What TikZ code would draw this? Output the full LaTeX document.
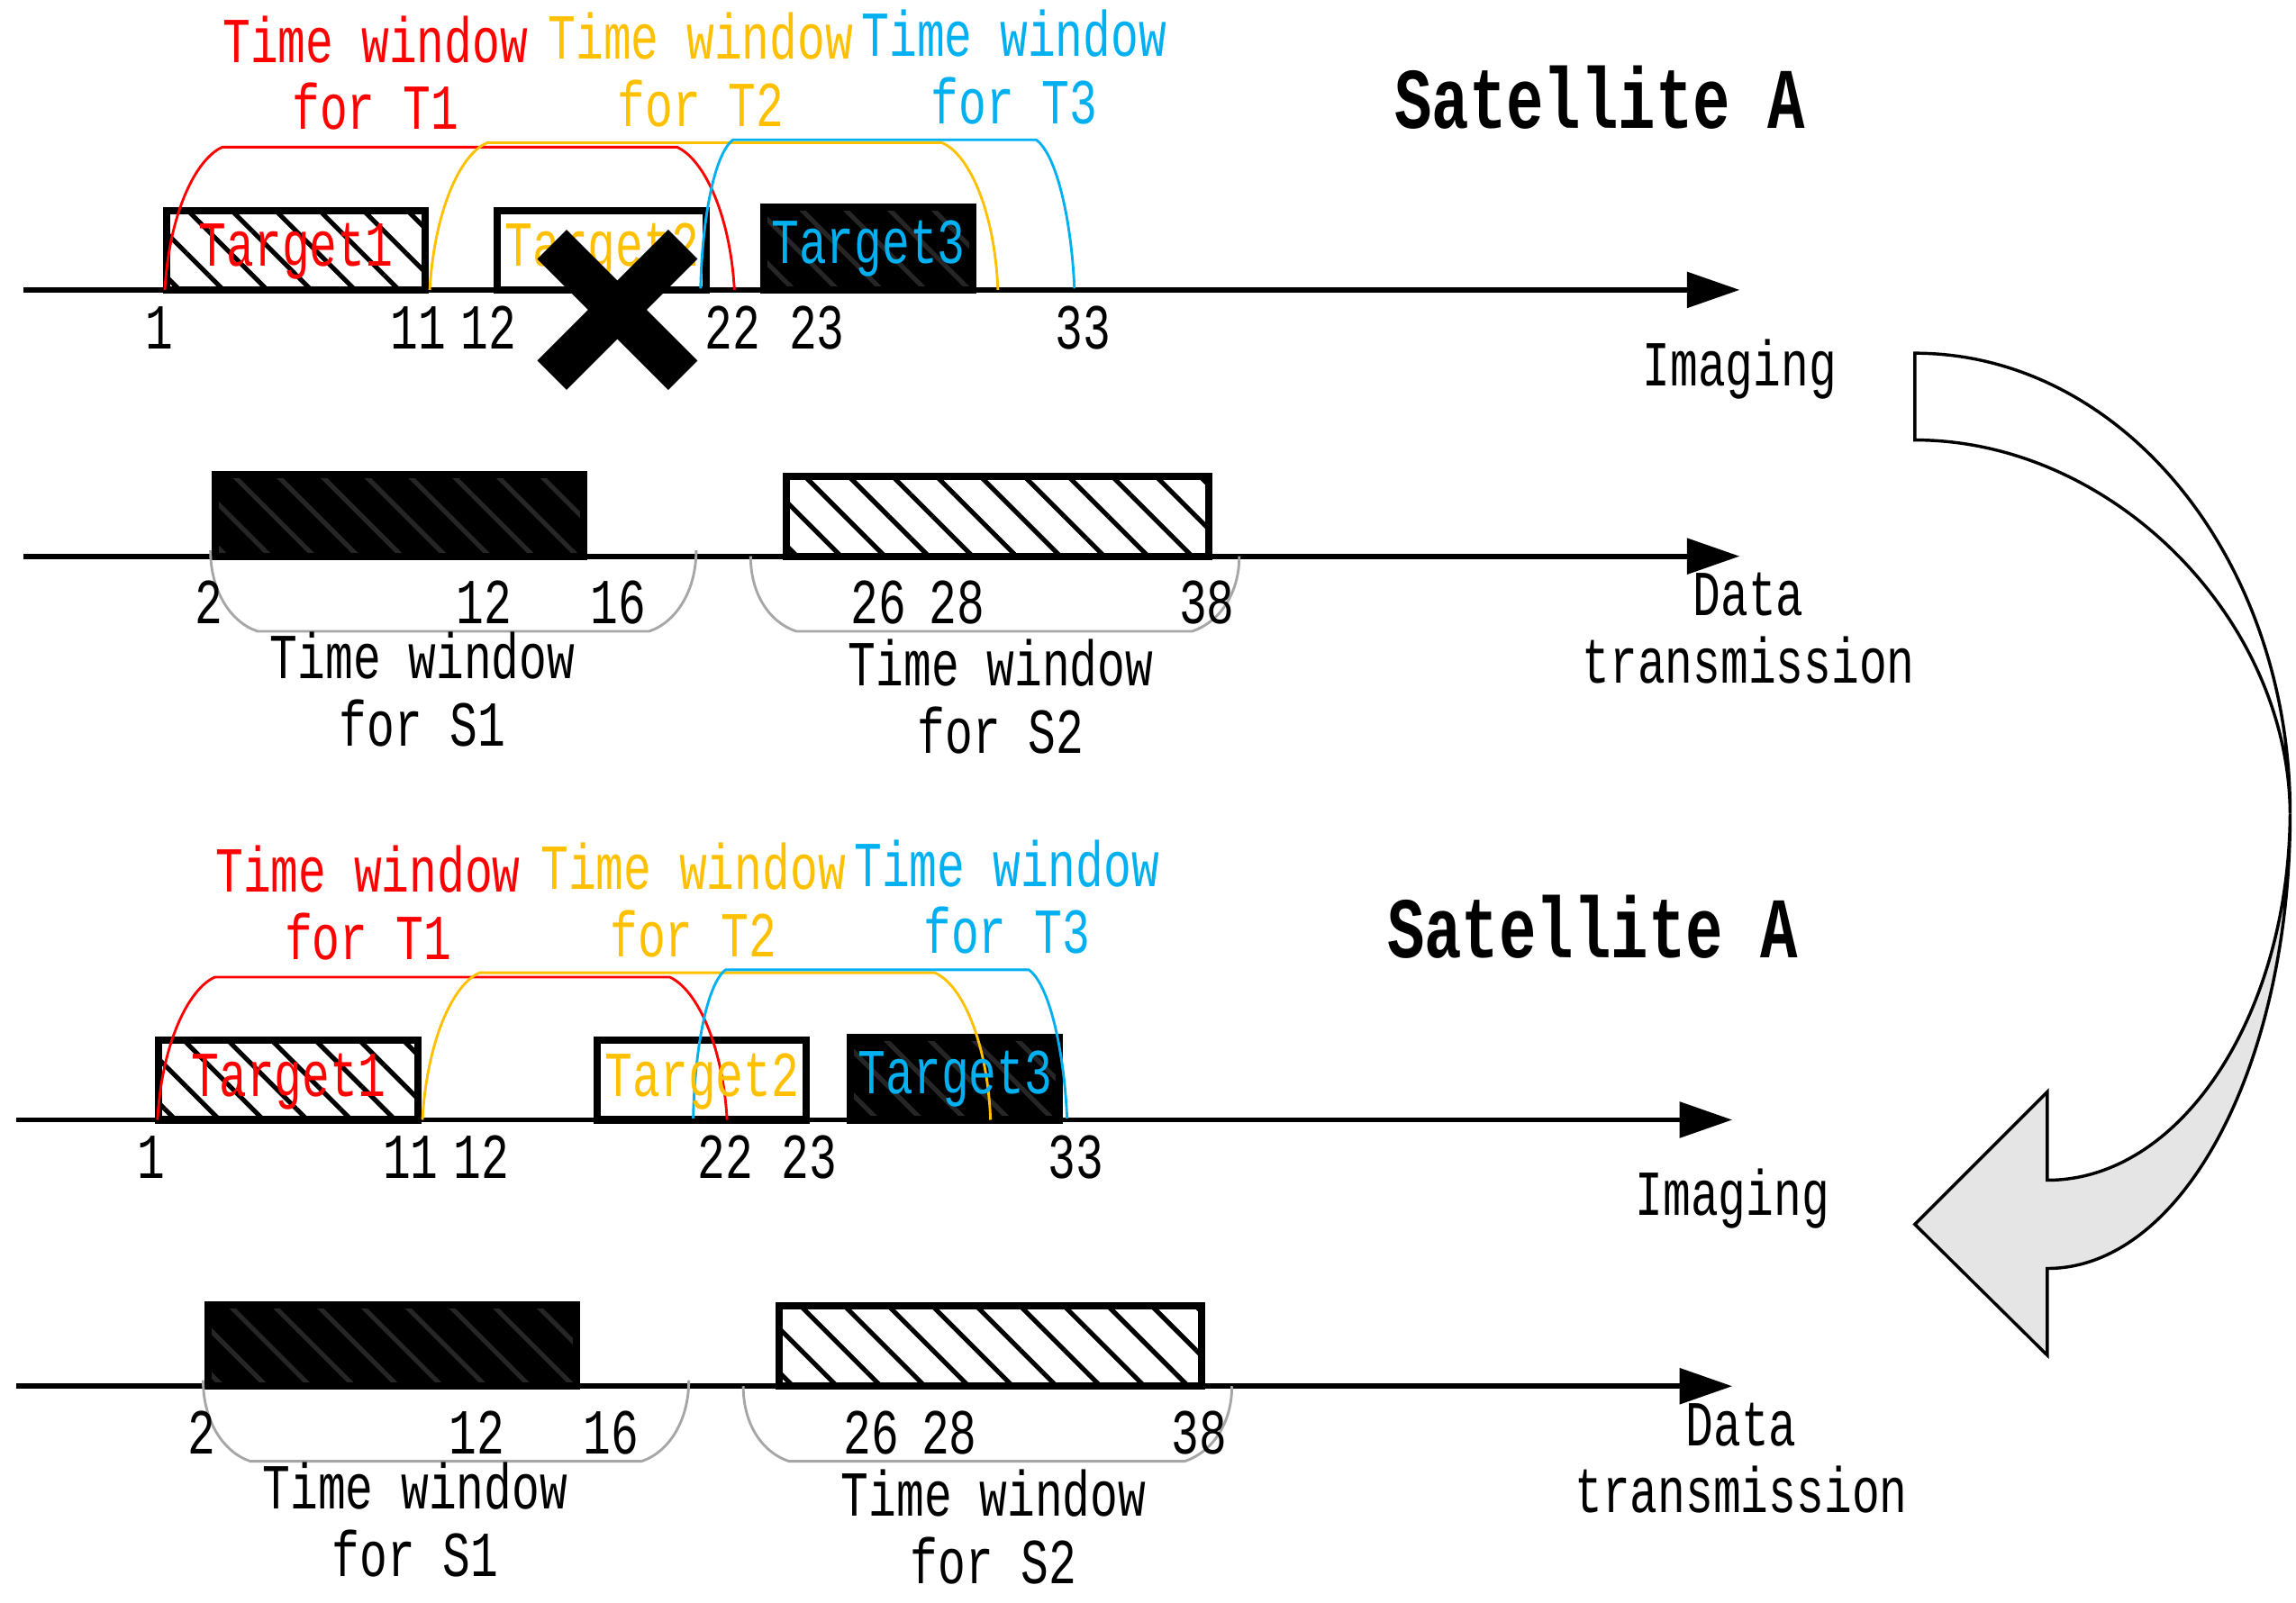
\documentclass[tikz,border=0pt]{standalone}
\usepackage{fontspec}
\setmainfont[FakeStretch=0.72]{Liberation Mono}
\usepackage{tikz}
\usetikzlibrary{arrows.meta,patterns.meta}

\definecolor{twred}{RGB}{255,0,0}
\definecolor{tworange}{RGB}{255,192,0}
\definecolor{twcyan}{RGB}{0,176,240}
\definecolor{hatchdark}{RGB}{38,38,38}

\tikzset{
	axis/.style={line width=1pt,-{Triangle[length=10.2pt,width=6.8pt]}},
	tbox/.style={line width=1.4pt},
	hatched/.style={pattern={Lines[angle=-45,distance=6pt,line width=0.9pt]},pattern color=#1},
	twin/.style={line width=0.5pt},
	swin/.style={line width=0.5pt,draw=gray!70},
	lbl/.style={anchor=base,inner sep=0pt,align=center,font=\fontsize{12.4}{13}\selectfont},
	satlbl/.style={lbl,font=\fontsize{16.7}{20}\selectfont\bfseries}
}

\begin{document}
\begin{tikzpicture}[x=0.1mm,y=-0.1mm]
	\useasboundingbox (0,0) rectangle (1560,1089);
	
	\foreach \p/\dx/\dy/\tbx/\tcx in {a/0/0/338/519,b/-5/564/411/583}{
	\begin{scope}[shift={(\dx,\dy)}]
		\coordinate (ia\p) at (16,197);
		\coordinate (ib\p) at (1182,197);
		\coordinate (da\p) at (16,378);
		\coordinate (db\p) at (1182,378);
		\draw[axis] (ia\p) -- (ib\p);
		\draw[axis] (da\p) -- (db\p);
		
		% targets
		\fill[white] (113,143) rectangle (289,197);
		\fill[hatched=black] (113,143) rectangle (289,197);
		\draw[tbox] (113,143) rectangle (289,197);
		\draw[tbox,fill=white] (\tbx,143) rectangle ++(142,54);
		\fill[black] (\tcx,141) rectangle ++(142,56);
		\fill[hatched=hatchdark] (\tcx,141) rectangle ++(142,56);
		\draw[tbox] (\tcx,141) rectangle ++(142,56);
		
		% stations
		\fill[black] (146.5,322.5) rectangle (396.5,378);
		\fill[hatched=hatchdark] (146.5,322.5) rectangle (396.5,378);
		\draw[tbox] (146.5,322.5) rectangle (396.5,378);
		\fill[white] (534.5,323.5) rectangle (821.5,378);
		\fill[hatched=black] (534.5,323.5) rectangle (821.5,378);
		\draw[tbox] (534.5,323.5) rectangle (821.5,378);
		
		\draw[twin,twred] (112,197) .. controls (115,145) and (133,108) .. (151,100) -- (460,100) .. controls (478,108) and (496,145) .. (499,197);
		\draw[twin,tworange] (292,197) .. controls (295,145) and (312,105) .. (331,97) -- (640,97) .. controls (659,105) and (676,145) .. (678,197);
		\draw[twin,twcyan] (476,196) .. controls (477,150) and (485,105) .. (498,95) -- (704,95) .. controls (718,105) and (728,150) .. (730,196);
		\draw[swin] (143,374) .. controls (143,402) and (157,423) .. (175,429) -- (441,429) .. controls (459,423) and (473,402) .. (473,374);
		\draw[swin] (510,378) .. controls (510,404) and (523,423) .. (541,429) -- (810,429) .. controls (828,423) and (842,404) .. (842,378);
		
		\node[lbl,text=twred] (tw1\p) at (255,88) {Time window\\for T1};
		\node[lbl,text=tworange] (tw2\p) at (476,86) {Time window\\for T2};
		\node[lbl,text=twcyan] (tw3\p) at (689,84) {Time window\\for T3};
		\node[lbl,text=twred] (tg1\p) at (201,181) {Target1};
		\node[lbl,text=tworange] (tg2\p) at ({\tbx+71},181) {Target2};
		\node[lbl,text=twcyan] (tg3\p) at ({\tcx+71},179) {Target3};
		\foreach \n/\x in {1/108,11/284,12/332,22/498,23/555,33/736}
			\node[lbl] (n\n\p) at (\x,237) {\n};
		\foreach \n/\x in {2/142,12/329,16/420,26/597,28/650,38/820}
			\node[lbl] (m\n\p) at (\x,424) {\n};
		\node[lbl] (sw1\p) at (287,507) {Time window\\for S1};
		\node[lbl] (sw2\p) at (680,512) {Time window\\for S2};
		\node[satlbl] (sat\p) at (1087,87) {Satellite A};
		\node[lbl] (img\p) at (1182,262) {Imaging};
		\node[lbl] (dat\p) at (1188,464) {Data\\transmission};
	\end{scope}
	}
	
	% dropped target
	\draw[line width=8pt] (375,166) -- (464,255);
	\draw[line width=8pt] (464,166) -- (375,255);
	
	\coordinate (tt) at (1301,240);
	\coordinate (tb) at (1301,299);
	\coordinate (mm) at (1556,553);
	\coordinate (bo) at (1391,862);
	\coordinate (bi) at (1391,802);
	\coordinate (ht) at (1391,742);
	\coordinate (hp) at (1301,832);
	\coordinate (hb) at (1391,921);
	\draw[line width=0.6pt,fill=white] (tt) .. controls (1442,240) and (1556,380) .. (mm) .. controls (1555,420) and (1435,299) .. (tb) -- cycle;
	\draw[line width=0.6pt,fill=gray!20] (mm) .. controls (1556,724) and (1483,862) .. (bo) -- (hb) -- (hp) -- (ht) -- (bi) .. controls (1482,802) and (1555,690) .. (mm);
	
\end{tikzpicture}
\end{document}
